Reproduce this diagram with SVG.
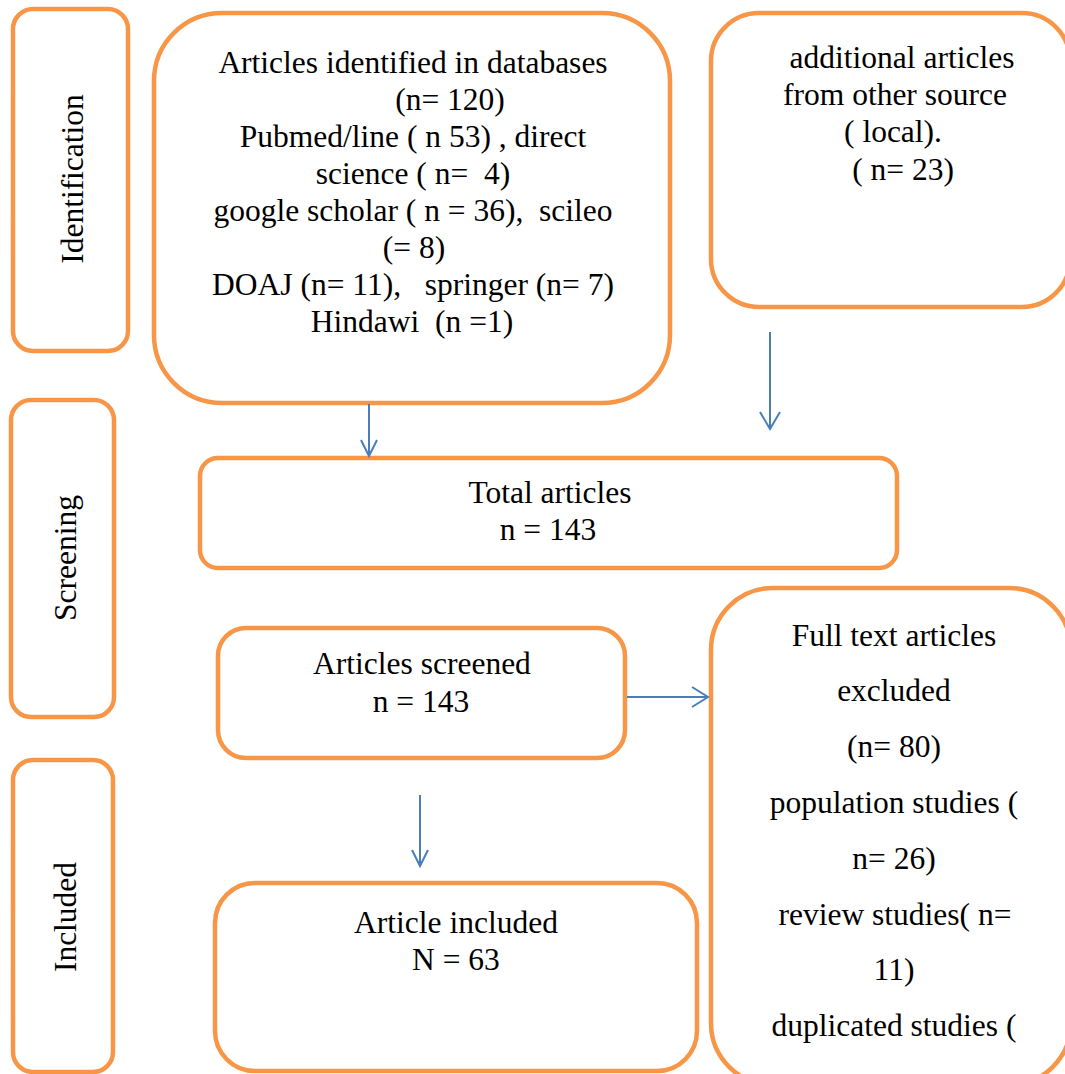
<svg xmlns="http://www.w3.org/2000/svg" width="1065" height="1074" viewBox="0 0 1065 1074">
<style>
.box{fill:#fff;stroke:#F79646;stroke-width:4.5}
.t{font-family:"Liberation Serif","Times New Roman",serif;font-size:31.5px;fill:#000;text-anchor:middle}
.c{fill:none;stroke:#4A7EBB;stroke-width:2}
</style>
<rect width="1065" height="1074" fill="#fff"/>
<g id="identification">
<rect class="box" x="13" y="9" width="115" height="342" rx="20"/>
<text class="t" transform="translate(83,179) rotate(-90)">Identification</text>
</g>
<g id="screening">
<rect class="box" x="11" y="400" width="103" height="317" rx="20"/>
<text class="t" transform="translate(76,558) rotate(-90)">Screening</text>
</g>
<g id="included">
<rect class="box" x="13" y="760" width="100" height="312" rx="20"/>
<text class="t" transform="translate(76,917) rotate(-90)">Included</text>
</g>
<g id="databases">
<rect class="box" x="154" y="13" width="516" height="390" rx="68"/>
<text class="t" xml:space="preserve"><tspan x="413" y="73">Articles identified in databases</tspan><tspan x="450" y="110">(n= 120)</tspan><tspan x="413" y="147">Pubmed/line ( n 53) , direct</tspan><tspan x="413" y="184">science ( n=  4)</tspan><tspan x="413" y="221">google scholar ( n = 36),  scileo</tspan><tspan x="414" y="258">(= 8)</tspan><tspan x="413" y="295">DOAJ (n= 11),   springer (n= 7)</tspan><tspan x="412" y="332">Hindawi  (n =1)</tspan></text>
</g>
<g id="additional">
<rect class="box" x="711" y="13" width="359" height="294" rx="48"/>
<text class="t"><tspan x="902" y="68">additional articles</tspan><tspan x="895" y="105">from other source</tspan><tspan x="893" y="142">( local).</tspan><tspan x="903" y="180">( n= 23)</tspan></text>
</g>
<g id="total">
<rect class="box" x="200" y="458" width="697" height="110" rx="18"/>
<text class="t"><tspan x="550" y="503">Total articles</tspan><tspan x="548" y="540">n = 143</tspan></text>
</g>
<g id="screened">
<rect class="box" x="218" y="628" width="407" height="130" rx="28"/>
<text class="t"><tspan x="422" y="674">Articles screened</tspan><tspan x="421" y="712">n = 143</tspan></text>
</g>
<g id="excluded">
<rect class="box" x="711" y="588" width="360" height="497" rx="62"/>
<text class="t"><tspan x="894" y="646">Full text articles</tspan><tspan x="894" y="701">excluded</tspan><tspan x="894" y="757">(n= 80)</tspan><tspan x="894" y="813">population studies (</tspan><tspan x="894" y="869">n= 26)</tspan><tspan x="895" y="925">review studies( n=</tspan><tspan x="894" y="980">11)</tspan><tspan x="894" y="1036">duplicated studies (</tspan></text>
</g>
<g id="article-included">
<rect class="box" x="215" y="883" width="482" height="188" rx="40"/>
<text class="t"><tspan x="456" y="933">Article included</tspan><tspan x="456" y="970">N = 63</tspan></text>
</g>
<g id="connectors">
<path class="c" d="M369 404V456M361 440L369 456L377 440"/>
<path class="c" d="M770 332V429M760 412L770 429L780 412"/>
<path class="c" d="M627 697H708M692 687L708 697L692 707"/>
<path class="c" d="M420 795V866M412 850L420 866L428 850"/>
</g>
</svg>
